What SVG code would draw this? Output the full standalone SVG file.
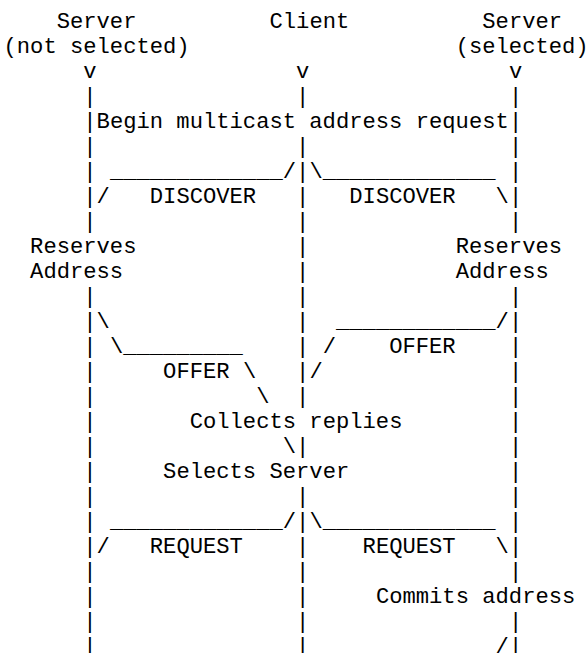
<svg xmlns="http://www.w3.org/2000/svg" width="587" height="653" viewBox="0 0 587 653">
<style>
text { font-family: "Liberation Mono", "Courier New", monospace; font-size: 22.17px; fill: #000; white-space: pre; }
</style>
<rect x="0" y="0" width="587" height="653" fill="#fff"/>
<g id="connectors">
  <g id="lifeline-server-not-selected">
    <text><tspan x="83.3" y="78">v</tspan><tspan x="83.3" y="103">|</tspan><tspan x="83.3" y="128">|</tspan><tspan x="83.3" y="153">|</tspan><tspan x="83.3" y="178">|</tspan><tspan x="83.3" y="203">|</tspan><tspan x="83.3" y="228">|</tspan><tspan x="83.3" y="303">|</tspan><tspan x="83.3" y="328">|</tspan><tspan x="83.3" y="353">|</tspan><tspan x="83.3" y="378">|</tspan><tspan x="83.3" y="403">|</tspan><tspan x="83.3" y="428">|</tspan><tspan x="83.3" y="453">|</tspan><tspan x="83.3" y="478">|</tspan><tspan x="83.3" y="503">|</tspan><tspan x="83.3" y="528">|</tspan><tspan x="83.3" y="553">|</tspan><tspan x="83.3" y="578">|</tspan><tspan x="83.3" y="603">|</tspan><tspan x="83.3" y="628">|</tspan><tspan x="83.3" y="653">|</tspan></text>
  </g>
  <g id="lifeline-client">
    <text><tspan x="296.1" y="78">v</tspan><tspan x="296.1" y="103">|</tspan><tspan x="296.1" y="153">|</tspan><tspan x="296.1" y="178">|</tspan><tspan x="296.1" y="203">|</tspan><tspan x="296.1" y="228">|</tspan><tspan x="296.1" y="253">|</tspan><tspan x="296.1" y="278">|</tspan><tspan x="296.1" y="303">|</tspan><tspan x="296.1" y="328">|</tspan><tspan x="296.1" y="353">|</tspan><tspan x="296.1" y="378">|</tspan><tspan x="296.1" y="403">|</tspan><tspan x="296.1" y="453">|</tspan><tspan x="296.1" y="503">|</tspan><tspan x="296.1" y="528">|</tspan><tspan x="296.1" y="553">|</tspan><tspan x="296.1" y="578">|</tspan><tspan x="296.1" y="603">|</tspan><tspan x="296.1" y="628">|</tspan><tspan x="296.1" y="653">|</tspan></text>
  </g>
  <g id="lifeline-server-selected">
    <text><tspan x="508.9" y="78">v</tspan><tspan x="508.9" y="103">|</tspan><tspan x="508.9" y="128">|</tspan><tspan x="508.9" y="153">|</tspan><tspan x="508.9" y="178">|</tspan><tspan x="508.9" y="203">|</tspan><tspan x="508.9" y="228">|</tspan><tspan x="508.9" y="303">|</tspan><tspan x="508.9" y="328">|</tspan><tspan x="508.9" y="353">|</tspan><tspan x="508.9" y="378">|</tspan><tspan x="508.9" y="403">|</tspan><tspan x="508.9" y="428">|</tspan><tspan x="508.9" y="453">|</tspan><tspan x="508.9" y="478">|</tspan><tspan x="508.9" y="503">|</tspan><tspan x="508.9" y="528">|</tspan><tspan x="508.9" y="553">|</tspan><tspan x="508.9" y="578">|</tspan><tspan x="508.9" y="628">|</tspan><tspan x="508.9" y="653">|</tspan></text>
  </g>
  <g id="msg-discover">
    <text><tspan x="109.9" y="178">_____________/</tspan><tspan x="309.4" y="178">\_____________</tspan><tspan x="96.6" y="203">/</tspan><tspan x="495.6" y="203">\</tspan></text>
  </g>
  <g id="msg-offer">
    <text><tspan x="96.6" y="328">\</tspan><tspan x="336" y="328">____________/</tspan><tspan x="109.9" y="353">\_________</tspan><tspan x="322.7" y="353">/</tspan><tspan x="242.9" y="378">\</tspan><tspan x="309.4" y="378">/</tspan><tspan x="256.2" y="403">\</tspan><tspan x="282.8" y="453">\</tspan></text>
  </g>
  <g id="msg-request">
    <text><tspan x="109.9" y="528">_____________/</tspan><tspan x="309.4" y="528">\_____________</tspan><tspan x="96.6" y="553">/</tspan><tspan x="495.6" y="553">\</tspan><tspan x="495.6" y="653">/</tspan></text>
  </g>
</g>
<g id="node-server-not-selected">
  <text x="56.7" y="28">Server</text>
  <text x="3.5" y="53">(not selected)</text>
</g>
<g id="node-client">
  <text x="269.5" y="28">Client</text>
</g>
<g id="node-server-selected">
  <text x="482.3" y="28">Server</text>
  <text x="455.7" y="53">(selected)</text>
</g>
<g id="label-begin">
  <text x="96.6" y="128">Begin multicast address request</text>
</g>
<g id="label-discover-left">
  <text x="149.8" y="203">DISCOVER</text>
</g>
<g id="label-discover-right">
  <text x="349.3" y="203">DISCOVER</text>
</g>
<g id="label-reserves-left">
  <text x="30.1" y="253">Reserves</text>
  <text x="30.1" y="278">Address</text>
</g>
<g id="label-reserves-right">
  <text x="455.7" y="253">Reserves</text>
  <text x="455.7" y="278">Address</text>
</g>
<g id="label-offer-right">
  <text x="389.2" y="353">OFFER</text>
</g>
<g id="label-offer-left">
  <text x="163.1" y="378">OFFER</text>
</g>
<g id="label-collects">
  <text x="189.7" y="428">Collects replies</text>
</g>
<g id="label-selects">
  <text x="163.1" y="478">Selects Server</text>
</g>
<g id="label-request-left">
  <text x="149.8" y="553">REQUEST</text>
</g>
<g id="label-request-right">
  <text x="362.6" y="553">REQUEST</text>
</g>
<g id="label-commits">
  <text x="375.9" y="603">Commits address</text>
</g>
</svg>
